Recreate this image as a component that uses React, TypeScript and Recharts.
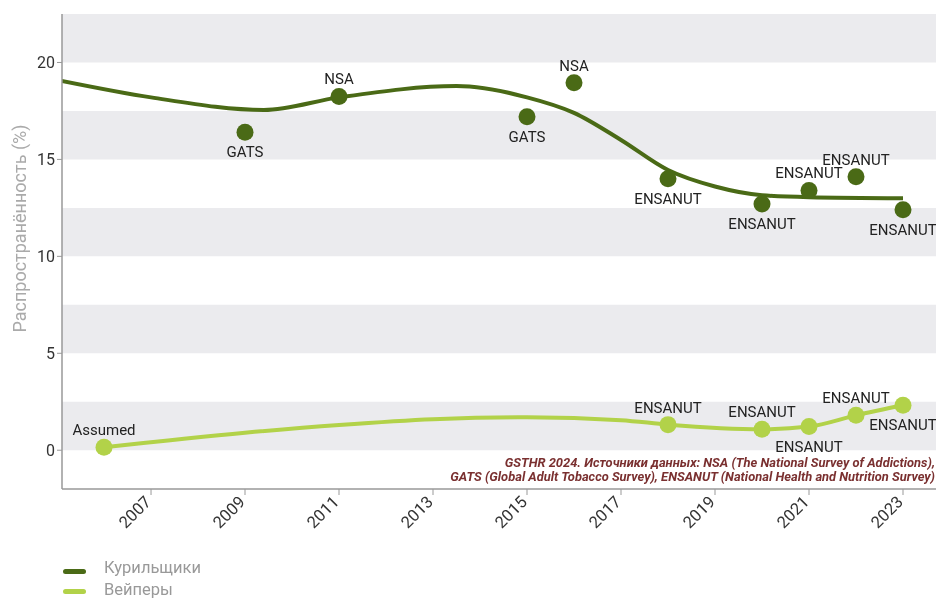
import React from 'react';
import { ComposedChart, Line, XAxis, YAxis, ReferenceArea } from 'recharts';

// ---- data ----
const smokerYears = [2009, 2011, 2015, 2016, 2018, 2020, 2021, 2022, 2023];
const smokerValues = [16.4, 18.25, 17.2, 18.95, 14.0, 12.7, 13.4, 14.1, 12.4];
const smokerSources = ['GATS', 'NSA', 'GATS', 'NSA', 'ENSANUT', 'ENSANUT', 'ENSANUT', 'ENSANUT', 'ENSANUT'];

const vaperYears = [2006, 2018, 2020, 2021, 2022, 2023];
const vaperValues = [0.15, 1.32, 1.08, 1.22, 1.8, 2.32];
const vaperSources = ['Assumed', 'ENSANUT', 'ENSANUT', 'ENSANUT', 'ENSANUT', 'ENSANUT'];

const smokerTrendYears = [2005.1, 2007, 2009.4, 2011, 2013.5, 2015, 2016, 2017, 2018, 2019, 2020, 2021, 2023];
const smokerTrendValues = [19.05, 18.2, 17.55, 18.2, 18.78, 18.2, 17.4, 16.0, 14.45, 13.6, 13.15, 13.05, 13.0];

const vaperTrendYears = [2006, 2009, 2011, 2013, 2015, 2017, 2018, 2020, 2021, 2022, 2023];
const vaperTrendValues = [0.15, 0.9, 1.3, 1.6, 1.7, 1.55, 1.32, 1.08, 1.22, 1.8, 2.32];

const xTicks = [2007, 2009, 2011, 2013, 2015, 2017, 2019, 2021, 2023];
const yTicks = [0, 5, 10, 15, 20];
const bandStarts = [0, 5, 10, 15, 20];

const seriesNames = ['Курильщики', 'Вейперы'];
const yLabel = 'Распространённость (%)';
const sourceLines = [
  'GSTHR 2024. Источники данных: NSA (The National Survey of Addictions),',
  'GATS (Global Adult Tobacco Survey), ENSANUT (National Health and Nutrition Survey)',
];

// ---- label placement (layout) ----
const smokerLabelSide = ['below', 'above', 'below', 'above', 'below', 'below', 'above', 'above', 'below'];
const vaperLabelSide = ['above', 'above', 'above', 'below', 'above', 'below'];

const SMOKER = '#4a6a16';
const VAPER = '#b2d249';

const smokerPoints = smokerYears.map((y, i) => ({ year: y, value: smokerValues[i], source: smokerSources[i], side: smokerLabelSide[i] }));
const vaperPoints = vaperYears.map((y, i) => ({ year: y, value: vaperValues[i], source: vaperSources[i], side: vaperLabelSide[i] }));
const smokerTrend = smokerTrendYears.map((y, i) => ({ year: y, value: smokerTrendValues[i] }));
const vaperTrend = vaperTrendYears.map((y, i) => ({ year: y, value: vaperTrendValues[i] }));

const FONT = 'Roboto, sans-serif';

const makeDot = (color: string) => (props: any) => {
  const { cx, cy, payload, index } = props;
  if (cx == null || cy == null) return <g key={index} />;
  const above = payload.side === 'above';
  return (
    <g key={`d-${color}-${index}`}>
      <circle cx={cx} cy={cy} r={8.5} fill={color} />
      <text
        x={cx}
        y={above ? cy - 12 : cy + 25}
        textAnchor="middle"
        fontSize={15}
        fontFamily={FONT}
        fill="#222"
      >
        {payload.source}
      </text>
    </g>
  );
};

const XTick = (props: any) => {
  const { x, y, payload } = props;
  const ax = x + 1;
  const ay = y + 6;
  return (
    <text
      x={ax}
      y={ay}
      textAnchor="end"
      fontSize={16.5}
      fontFamily={FONT}
      fill="#333"
      transform={`rotate(-45, ${ax}, ${ay})`}
    >
      {payload.value}
    </text>
  );
};

const YLabel = (props: any) => {
  const vb = props.viewBox || { x: 0, y: 0, width: 54, height: 475 };
  const lx = vb.x + 18;
  const ly = vb.y + vb.height / 2 - 23;
  return (
    <text
      x={lx}
      y={ly}
      textAnchor="middle"
      fontSize={18}
      fontFamily={FONT}
      fill="#aaa"
      transform={`rotate(-90, ${lx}, ${ly})`}
    >
      {yLabel}
    </text>
  );
};

export default function App() {
  return (
    <div style={{ position: 'fixed', left: 8, top: 8, width: 928, height: 591, fontFamily: FONT, overflow: 'visible' }}>
      <style>{'html{overflow:hidden;} #root{overflow:visible !important;}'}</style>
      <ComposedChart width={928} height={545} margin={{ top: 6, right: 0, left: 0, bottom: 0 }}>
        {bandStarts.map((b) => (
          <ReferenceArea key={b} y1={b} y2={b + 2.5} fill="#ebebee" fillOpacity={1} stroke="none" ifOverflow="hidden" />
        ))}
        <XAxis
          type="number"
          dataKey="year"
          domain={[2005.106, 2023.702]}
          allowDataOverflow
          ticks={xTicks}
          interval={0}
          height={64}
          tick={<XTick />}
          tickSize={6}
          axisLine={{ stroke: '#999', strokeWidth: 1.5 }}
          tickLine={{ stroke: '#999' }}
        />
        <YAxis
          type="number"
          domain={[-2, 22.5]}
          allowDataOverflow
          ticks={yTicks}
          width={54}
          tickSize={5}
          tick={{ fontSize: 16, fill: '#333', fontFamily: FONT }}
          axisLine={{ stroke: '#999', strokeWidth: 1.5 }}
          tickLine={{ stroke: '#999' }}
          label={<YLabel />}
        />
        <Line
          data={smokerTrend}
          dataKey="value"
          type="monotone"
          stroke={SMOKER}
          strokeWidth={4}
          dot={false}
          activeDot={false}
          isAnimationActive={false}
        />
        <Line
          data={smokerPoints}
          dataKey="value"
          stroke="none"
          dot={makeDot(SMOKER)}
          activeDot={false}
          isAnimationActive={false}
        />
        <Line
          data={vaperTrend}
          dataKey="value"
          type="monotone"
          stroke={VAPER}
          strokeWidth={4}
          dot={false}
          activeDot={false}
          isAnimationActive={false}
        />
        <Line
          data={vaperPoints}
          dataKey="value"
          stroke="none"
          dot={makeDot(VAPER)}
          activeDot={false}
          isAnimationActive={false}
        />
      </ComposedChart>

      <div
        style={{
          position: 'absolute',
          right: 1,
          top: 448,
          textAlign: 'right',
          fontSize: 12.9,
          lineHeight: '14px',
          fontWeight: 'bold',
          fontStyle: 'italic',
          color: '#7a3030',
          whiteSpace: 'nowrap',
        }}
      >
        {sourceLines.map((l) => (
          <div key={l}>{l}</div>
        ))}
      </div>

      {seriesNames.map((name, i) => (
        <React.Fragment key={name}>
          <div
            style={{
              position: 'absolute',
              left: 55,
              top: 561 + i * 20.3,
              width: 23,
              height: 5,
              borderRadius: 3,
              background: i === 0 ? SMOKER : VAPER,
            }}
          />
          <div
            style={{
              position: 'absolute',
              left: 96,
              top: 550 + i * 22,
              lineHeight: '20px',
              fontSize: 16.5,
              color: '#999',
              whiteSpace: 'nowrap',
            }}
          >
            {name}
          </div>
        </React.Fragment>
      ))}
    </div>
  );
}
